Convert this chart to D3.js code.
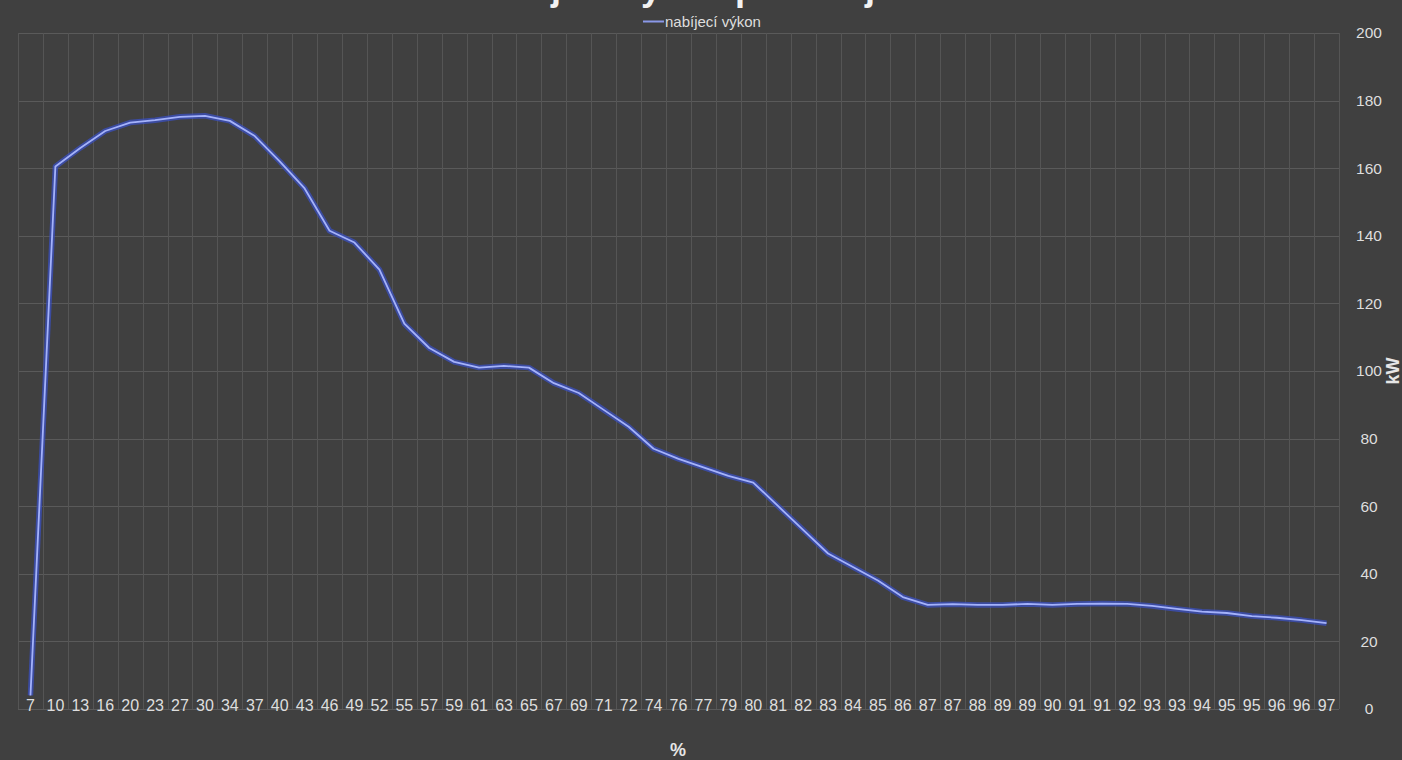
<!DOCTYPE html>
<html><head><meta charset="utf-8">
<script src="https://cdn.jsdelivr.net/npm/d3@7"></script>
<style>
html,body{margin:0;padding:0;background:#404040;}
svg{display:block;}
</style></head>
<body>
<script>
const categories = ["7","10","13","16","20","23","27","30","34","37","40","43","46","49","52","55","57","59",
  "61","63","65","67","69","71","72","74","76","77","79","80","81","82","83","84","85","86",
  "87","87","88","89","89","90","91","91","92","93","93","94","95","95","96","96","97"];
const power = [4,160.5,166,171,173.5,174.2,175.2,175.5,174,169.5,162,154,141.5,138,130,114,106.8,102.7,
  101,101.5,101,96.4,93.5,88.5,83.5,77,74,71.5,69,67,60,53,46,42,38,33.1,
  30.8,31,30.8,30.8,31.1,30.8,31.1,31.2,31.1,30.5,29.6,28.8,28.4,27.5,27,26.3,25.4];
const yTicks = [0,20,40,60,80,100,120,140,160,180,200];
const seriesName = "nabíjecí výkon";
const titleText = "Nabíjecí výkon při nabíjení";
const xTitle = "%";
const yTitle = "kW";

const W = 1402, H = 760;
const m = {left:18, right:1339, top:33, bottom:709};
const svg = d3.select("body").append("svg").attr("width",W).attr("height",H)
  .style("font-family","Arial, 'Liberation Sans', sans-serif");
svg.append("rect").attr("width",W).attr("height",H).attr("fill","#404040");

const idx = d3.range(categories.length);
const x = d3.scaleBand().domain(idx).range([m.left,m.right]).paddingInner(0).paddingOuter(0);
const y = d3.scaleLinear().domain([0,200]).range([m.bottom,m.top]);

// horizontal gridlines
svg.append("g").selectAll("line").data(yTicks).join("line")
  .attr("x1",m.left).attr("x2",m.right)
  .attr("y1",d=>Math.round(y(d))+0.5).attr("y2",d=>Math.round(y(d))+0.5)
  .attr("stroke","#5a5a5a").attr("stroke-width",1);
// vertical gridlines at band boundaries
const bounds = idx.map(i=>x(i)).concat([m.right]);
svg.append("g").selectAll("line").data(bounds).join("line")
  .attr("x1",d=>Math.round(d)+0.5).attr("x2",d=>Math.round(d)+0.5)
  .attr("y1",m.top).attr("y2",m.bottom)
  .attr("stroke","#555555").attr("stroke-width",1);

// x axis labels
const xAxis = d3.axisBottom(x).tickFormat(i=>categories[i]).tickSize(0).tickPadding(0);
const gx = svg.append("g").attr("transform",`translate(0,${m.bottom-9})`).call(xAxis);
gx.select(".domain").remove();
gx.selectAll("text").attr("fill","#dedede").attr("font-size","16px").attr("dy","0.32em").attr("y",6);

// y axis labels on right
const yAxis = d3.axisRight(y).tickValues(yTicks).tickSize(0).tickPadding(0);
const gy = svg.append("g").attr("transform",`translate(${1369},0)`).call(yAxis);
gy.select(".domain").remove();
gy.selectAll("text").attr("fill","#dedede").attr("font-size","15.5px").attr("text-anchor","middle").attr("x",0);

// line
const line = d3.line().x((d,i)=>x(i)+x.bandwidth()/2).y(d=>y(d));
svg.append("path").datum(power).attr("d",line).attr("fill","none")
  .attr("stroke","#3a4fc0").attr("stroke-width",5.5).attr("stroke-opacity",0.75).attr("stroke-linejoin","round");
svg.append("path").datum(power).attr("d",line).attr("fill","none")
  .attr("stroke","#a4b2fa").attr("stroke-width",1.8).attr("stroke-linejoin","round");

// title (cut off at top, as in the reference)
svg.append("text").attr("x",700).attr("y",0).attr("text-anchor","middle")
  .attr("font-size","36px").attr("font-weight","bold").attr("fill","#f2f2f2").text(titleText);

// legend
svg.append("line").attr("x1",643).attr("x2",664).attr("y1",21.5).attr("y2",21.5)
  .attr("stroke","#8a98e8").attr("stroke-width",2);
svg.append("text").attr("x",665).attr("y",27).attr("fill","#dedede").attr("font-size","15px").text(seriesName);

// axis titles
svg.append("text").attr("x",678).attr("y",756).attr("text-anchor","middle")
  .attr("fill","#e6e6e6").attr("font-size","18px").attr("font-weight","bold").text(xTitle);
svg.append("text").attr("transform","translate(1399,371) rotate(-90)").attr("text-anchor","middle")
  .attr("fill","#e6e6e6").attr("font-size","18px").attr("font-weight","bold").text(yTitle);
</script>
</body></html>
